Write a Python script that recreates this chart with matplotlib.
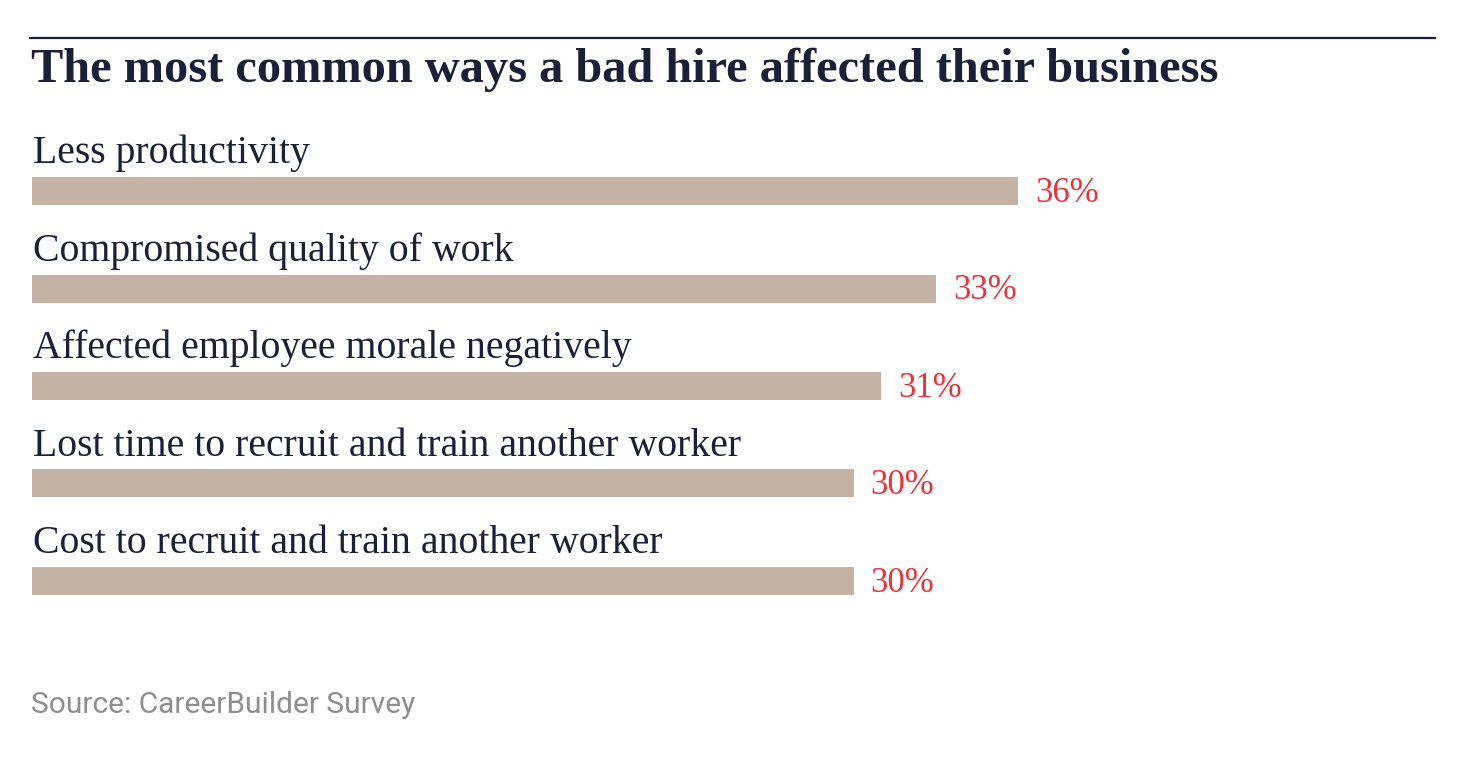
import matplotlib
matplotlib.use("Agg")
import matplotlib.pyplot as plt
from matplotlib.lines import Line2D

categories = [
    "Less productivity",
    "Compromised quality of work",
    "Affected employee morale negatively",
    "Lost time to recruit and train another worker",
    "Cost to recruit and train another worker",
]
values = [36, 33, 31, 30, 30]
value_labels = ["36%", "33%", "31%", "30%", "30%"]
title = "The most common ways a bad hire affected their business"
source = "Source: CareerBuilder Survey"

W, H = 1483, 759
fig = plt.figure(figsize=(W / 100, H / 100), dpi=100)
fig.patch.set_facecolor("white")

navy = "#1b2038"
bar_color = "#c4b2a5"
red = "#e8323c"
serif = ["Liberation Serif", "DejaVu Serif"]

# axes in pixel-derived layout
left_px, right_px = 32, W
top_px, bot_px = 100, 650
ax = fig.add_axes([left_px / W, 1 - bot_px / H, (right_px - left_px) / W, (bot_px - top_px) / H])
px_per_unit = 27.4
spacing = 97.5
first_center = 191
ax.set_xlim(0, (right_px - left_px) / px_per_unit)
ax.set_ylim((bot_px - first_center) / spacing, (top_px - first_center) / spacing)
ax.axis("off")

ypos = list(range(len(categories)))
ax.barh(ypos, values, height=28 / spacing, color=bar_color, left=0)

for i, (cat, v, lab) in enumerate(zip(categories, values, value_labels)):
    ax.text(0.05, i - 28 / spacing, cat, family=serif, fontsize=28.6, color=navy,
            va="baseline", ha="left")
    ax.annotate(lab, xy=(v, i), xytext=(12, -1.5), textcoords="offset points",
                family=serif, fontsize=25, color=red, va="center", ha="left")

fig.text(31 / W, 1 - 82 / H, title, family=serif, fontsize=34.8, fontweight="bold",
         color=navy, va="baseline", ha="left")
fig.add_artist(Line2D([30 / W, 1435 / W], [1 - 38 / H, 1 - 38 / H], color=navy,
                      linewidth=1.6, transform=fig.transFigure))
fig.text(31 / W, 1 - 705 / H, source, family=["Roboto", "DejaVu Sans"], fontsize=21.5,
         fontweight="normal", color="#8e8e8e", va="center", ha="left")

fig.savefig("out.png", dpi=100, facecolor="white")
